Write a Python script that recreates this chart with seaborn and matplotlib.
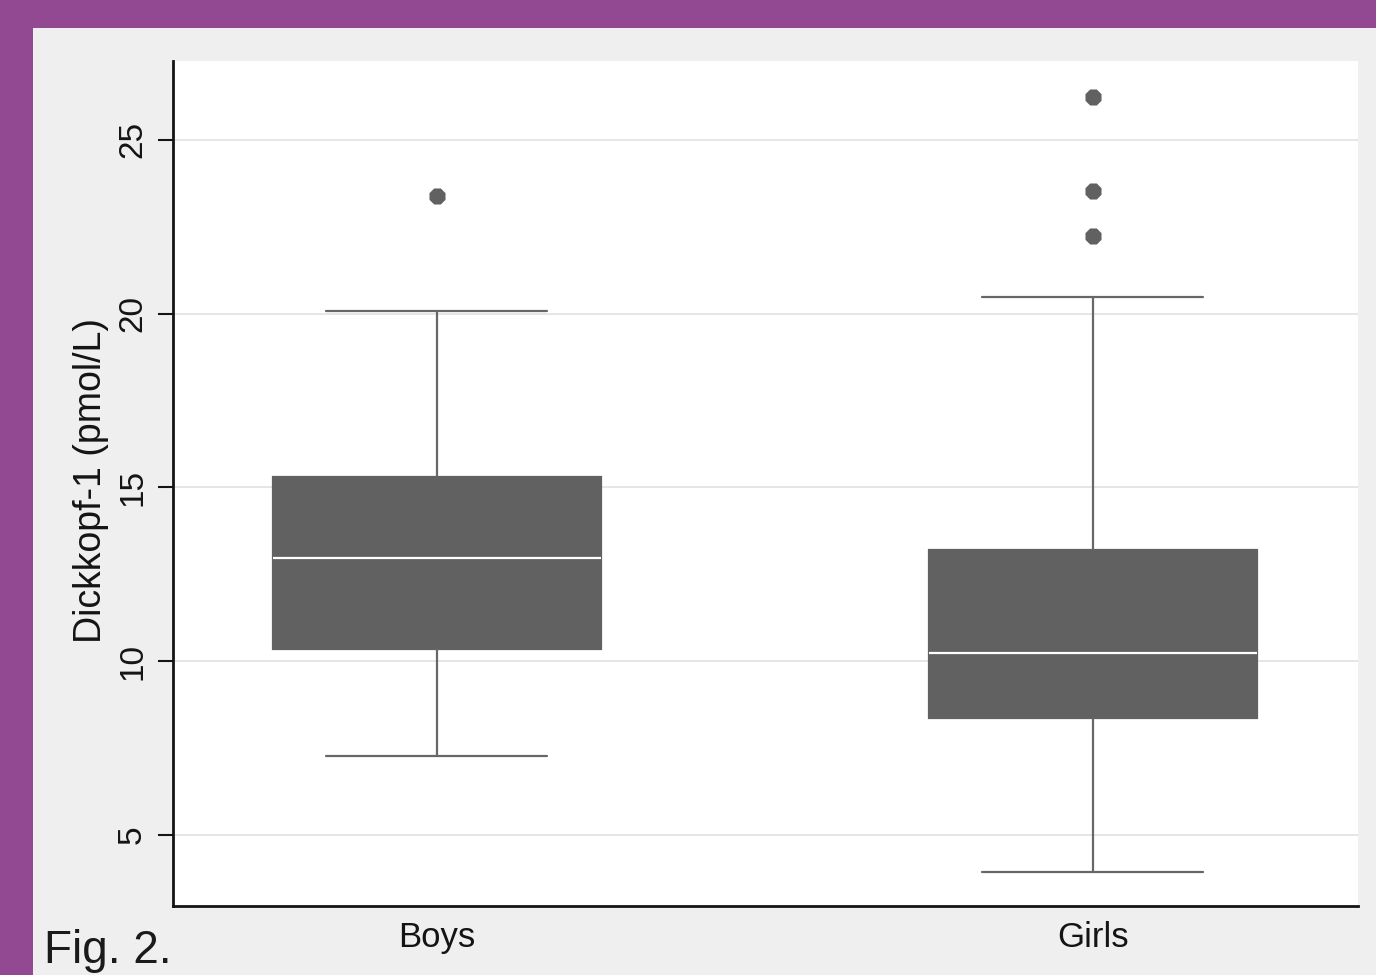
import numpy as np
import pandas as pd
import matplotlib
matplotlib.use("Agg")
import matplotlib.pyplot as plt
import seaborn as sns

# Dickkopf-1 summary statistics by sex
groups = ["Boys", "Girls"]
whisker_low = [7.27, 3.93]
quartile_1 = [10.35, 8.36]
medians = [12.96, 10.23]
quartile_3 = [15.29, 13.20]
whisker_high = [20.09, 20.49]
outlier_groups = ["Boys", "Girls", "Girls", "Girls"]
outlier_values = [23.39, 26.24, 23.53, 22.24]
y_ticks = [5, 10, 15, 20, 25]

# Five-number summary per group: with whis=(0, 100) the min/max become the whisker ends
summary = pd.DataFrame({
    "group": np.repeat(groups, 5),
    "value": np.column_stack(
        [whisker_low, quartile_1, medians, quartile_3, whisker_high]
    ).ravel(),
})
outliers = pd.DataFrame({"group": outlier_groups, "value": outlier_values})

sns.set_theme(style="white")
plt.rcParams["font.family"] = ["Liberation Sans", "DejaVu Sans"]

W, H = 1376, 975
PURPLE = "#934892"
PANEL = "#efefef"
BOX = "#616161"
LINE = "#676767"
INK = "#141414"

fig = plt.figure(figsize=(W / 100, H / 100), dpi=100, facecolor=PURPLE)
panel = plt.Rectangle((33 / W, 0), 1, (H - 28) / H, transform=fig.transFigure,
                      facecolor=PANEL, edgecolor="none", zorder=-10)
fig.add_artist(panel)
ax = fig.add_axes([173 / W, (H - 906) / H, (1358 - 173) / W, (906 - 61) / H])
ax.set_facecolor("white")

sns.boxplot(data=summary, x="group", y="value", order=groups, whis=(0, 100),
            width=0.5, color=BOX, linecolor=LINE, linewidth=1.6, saturation=1,
            capwidths=0.337, showfliers=False,
            boxprops={"edgecolor": BOX},
            medianprops={"color": "white", "linewidth": 1.6},
            ax=ax)
sns.stripplot(data=outliers, x="group", y="value", order=groups, jitter=False,
              color=BOX, size=12.5, marker="8", linewidth=0, ax=ax)

ax.set_xlim(-0.402, 1.404)
ax.set_ylim(2.96, 27.27)
ax.set_yticks(y_ticks)
ax.yaxis.grid(True, color="#e6e6e6", linewidth=1.4)
ax.xaxis.grid(False)
ax.set_axisbelow(True)

sns.despine(ax=ax)
for side in ("left", "bottom"):
    ax.spines[side].set_color(INK)
    ax.spines[side].set_linewidth(2)

ax.tick_params(axis="y", left=True, length=11, width=1.5, color=INK,
               labelsize=24, pad=7, labelcolor=INK)
plt.setp(ax.get_yticklabels(), rotation=90, va="center")
ax.tick_params(axis="x", bottom=False, length=0, labelsize=25, pad=11,
               labelcolor=INK)

ax.set_xlabel("")
ax.set_ylabel("Dickkopf-1 (pmol/L)", fontsize=27, color=INK)
ax.yaxis.set_label_coords((109 - 173) / (1358 - 173), 0.504)

fig.text(44 / W, 12 / H, "Fig. 2.", fontsize=33, color="#1a1a1a",
         va="baseline", ha="left")

fig.savefig("out.png", dpi=100, facecolor=PURPLE)
